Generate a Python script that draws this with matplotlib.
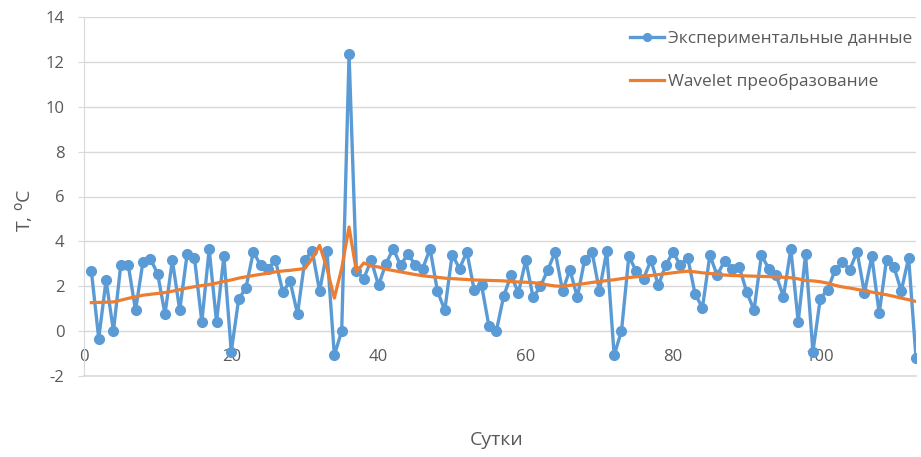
import matplotlib
matplotlib.use("Agg")
import matplotlib.pyplot as plt
import numpy as np

plt.rcParams['font.family'] = ['Open Sans', 'DejaVu Sans']
plt.rcParams['axes.unicode_minus'] = False

days = list(range(1, 114))
experimental = [
    2.68, -0.33, 2.27, 0.00, 2.96, 2.96, 0.93, 3.07, 3.23, 2.56,
    0.76, 3.16, 0.93, 3.42, 3.27, 0.41, 3.64, 0.41, 3.33, -0.92,
    1.41, 1.94, 3.53, 2.93, 2.79, 3.16, 1.75, 2.22, 0.76, 3.19,
    3.57, 1.78, 3.57, -1.07, 0.00, 12.34, 2.67, 2.34, 3.16, 2.04,
    3.00, 3.67, 2.93, 3.45, 2.93, 2.79, 3.67, 1.79, 0.93, 3.41,
    2.79, 3.53, 1.82, 2.04, 0.22, 0.00, 1.56, 2.49, 1.70, 3.16,
    1.50, 2.00, 2.74, 3.53, 1.79, 2.74, 1.50, 3.19, 3.53, 1.79,
    3.57, -1.07, 0.00, 3.33, 2.68, 2.34, 3.16, 2.04, 2.93, 3.53,
    2.93, 3.27, 1.64, 1.05, 3.38, 2.49, 3.13, 2.79, 2.86, 1.75,
    0.93, 3.38, 2.79, 2.49, 1.53, 3.67, 0.41, 3.42, -0.92, 1.45,
    1.85, 2.71, 3.08, 2.74, 3.53, 1.70, 3.33, 0.79, 3.19, 2.86,
    1.79, 3.27, -1.20,
]
wavelet = [
    1.27, 1.28, 1.29, 1.30, 1.38, 1.46, 1.53, 1.60, 1.64, 1.68,
    1.72, 1.78, 1.85, 1.92, 1.98, 2.03, 2.08, 2.14, 2.22, 2.28,
    2.36, 2.42, 2.48, 2.53, 2.58, 2.64, 2.68, 2.71, 2.75, 2.79,
    3.25, 3.82, 2.80, 1.47, 2.80, 4.64, 2.64, 3.04, 2.90, 2.86,
    2.76, 2.70, 2.64, 2.58, 2.52, 2.47, 2.43, 2.40, 2.36, 2.34,
    2.32, 2.30, 2.28, 2.27, 2.26, 2.25, 2.24, 2.21, 2.19, 2.18,
    2.16, 2.12, 2.06, 2.01, 2.00, 2.04, 2.08, 2.12, 2.17, 2.21,
    2.25, 2.29, 2.34, 2.39, 2.42, 2.45, 2.48, 2.52, 2.56, 2.60,
    2.64, 2.67, 2.64, 2.60, 2.57, 2.54, 2.50, 2.48, 2.47, 2.46,
    2.45, 2.44, 2.43, 2.42, 2.40, 2.38, 2.33, 2.25, 2.24, 2.20,
    2.14, 2.04, 1.97, 1.92, 1.86, 1.80, 1.74, 1.68, 1.62, 1.55,
    1.47, 1.40, 1.32,
]
x_ticks = [0, 20, 40, 60, 80, 100]
y_ticks = [-2, 0, 2, 4, 6, 8, 10, 12, 14]
label_exp = "Экспериментальные данные"
label_wav = "Wavelet преобразование"
x_title = "Сутки"
y_title = r"T, $^{\rm o}$C"

grey = "#595959"
gridc = "#d9d9d9"

fig = plt.figure(figsize=(9.21, 4.57), dpi=100)
ax = fig.add_axes([84/921, 1-376/457, (916-84)/921, (376-17)/457])

ax.plot(days, experimental, color="#5b9bd5", lw=2.4, marker="o", ms=7,
        label=label_exp, zorder=3, clip_on=True)
ax.plot(days, wavelet, color="#ed7d31", lw=2.3, label=label_wav, zorder=4)

ax.set_xlim(0, 113)
ax.set_ylim(-2, 14)
ax.set_yticks(y_ticks)
ax.set_xticks(x_ticks)
ax.yaxis.grid(True, color=gridc, lw=1)
ax.set_axisbelow(True)
ax.axhline(-2, color=gridc, lw=1.2, clip_on=False, zorder=1)

for s in ["top", "right"]:
    ax.spines[s].set_visible(False)
ax.spines["left"].set_color(gridc)
ax.spines["bottom"].set_position(("data", 0))
ax.spines["bottom"].set_color(gridc)

ax.tick_params(axis="y", colors=grey, labelsize=12, length=4, color=gridc, pad=10)
ax.tick_params(axis="x", colors=grey, labelsize=12, length=0, pad=13)

fig.text(497/921, 1-440/457, x_title, ha="center", va="center", fontsize=14, color=grey)
fig.text(24/921, 1-210/457, y_title, ha="center", va="center", fontsize=14,
         color=grey, rotation=90)

leg = ax.legend(loc="upper left", bbox_to_anchor=(630/921, 1-31/457),
                bbox_transform=fig.transFigure, frameon=False, fontsize=12.4,
                handlelength=2.0, handletextpad=0.2, labelspacing=1.55,
                numpoints=1, markerscale=0.8, borderaxespad=0, borderpad=0)
for t in leg.get_texts():
    t.set_color(grey)

fig.savefig("out.png", dpi=100)
